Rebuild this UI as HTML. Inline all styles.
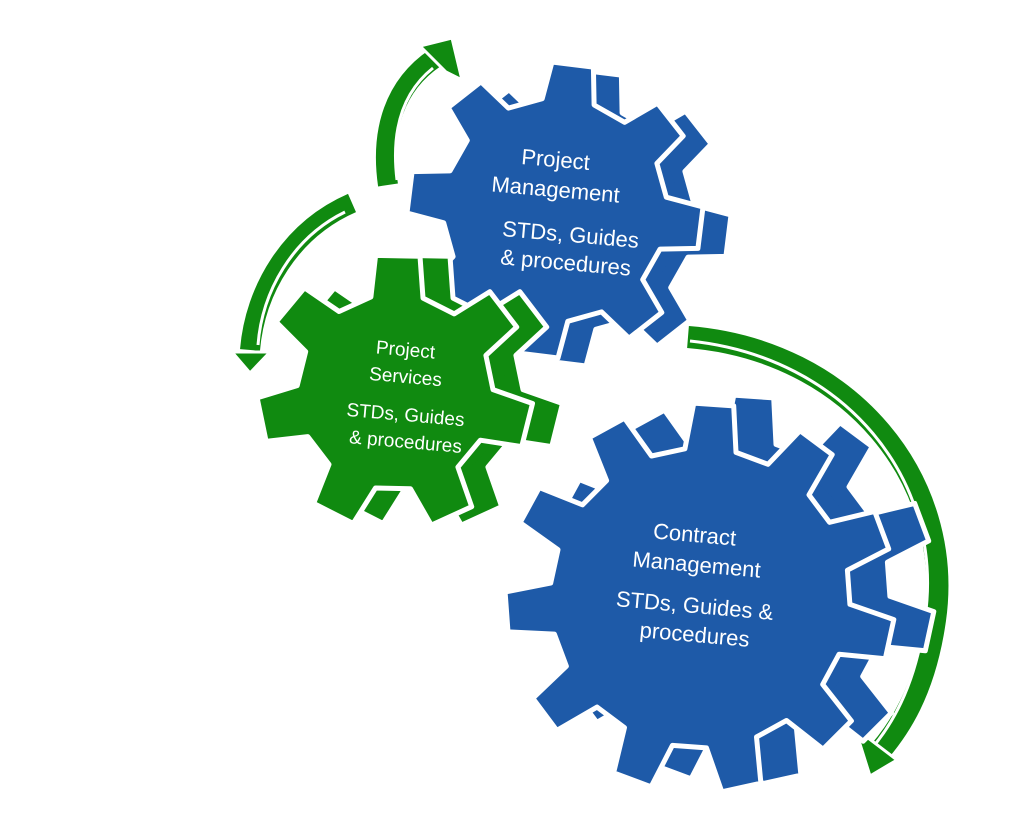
<!DOCTYPE html>
<html><head><meta charset="utf-8"><style>
html,body{margin:0;padding:0;background:#fff;}
svg{display:block}
text{font-family:"Liberation Sans",sans-serif;fill:#fff;}
</style></head><body>
<svg id="s" width="1024" height="814" viewBox="0 0 1024 814" xmlns="http://www.w3.org/2000/svg">
<g id="arrows">
 <path d="M388,185 C380,130 395,85 435,58" fill="none" stroke="#108A10" stroke-width="20"/>
 <path d="M397,180 C391,130 403,92 433,68" fill="none" stroke="#fff" stroke-width="3"/>
 <polygon points="420,46 452,38 462,80 446,72" fill="#108A10" stroke="#fff" stroke-width="3"/>
 <path d="M352,203 C290,230 255,290 250,350" fill="none" stroke="#108A10" stroke-width="20"/>
 <path d="M345,212 C292,238 262,292 258,345" fill="none" stroke="#fff" stroke-width="3"/>
 <polygon points="232,352 270,352 250,373" fill="#108A10" stroke="#fff" stroke-width="3"/>
 <path d="M688,337 C850,350 955,480 935,620 C925,690 900,730 872,760" fill="none" stroke="#108A10" stroke-width="22"/>
 <path d="M690,341 C845,357 945,480 925,618 C915,688 891,728 865,756" fill="none" stroke="#fff" stroke-width="3"/>
 <polygon points="855,728 897,760 870,776" fill="#108A10" stroke="#fff" stroke-width="3"/>
</g>
<g id="gears"></g>
<g>
 <text transform="translate(555,167) rotate(5)" font-size="22" text-anchor="middle">Project</text>
 <text transform="translate(555,197) rotate(5)" font-size="22" text-anchor="middle">Management</text>
 <text transform="translate(570,242) rotate(5)" font-size="22" text-anchor="middle">STDs, Guides</text>
 <text transform="translate(565,270) rotate(5)" font-size="22" text-anchor="middle">&amp; procedures</text>
 <text transform="translate(405,356) rotate(5)" font-size="19" text-anchor="middle">Project</text>
 <text transform="translate(405,383) rotate(5)" font-size="19" text-anchor="middle">Services</text>
 <text transform="translate(405,421) rotate(5)" font-size="19" text-anchor="middle">STDs, Guides</text>
 <text transform="translate(405,448) rotate(5)" font-size="19" text-anchor="middle">&amp; procedures</text>
 <text transform="translate(694,542) rotate(5)" font-size="22" text-anchor="middle">Contract</text>
 <text transform="translate(696,572) rotate(5)" font-size="22" text-anchor="middle">Management</text>
 <text transform="translate(694,613) rotate(5)" font-size="22" text-anchor="middle">STDs, Guides &amp;</text>
 <text transform="translate(694,642) rotate(5)" font-size="22" text-anchor="middle">procedures</text>
</g>
</svg>
<script>
function gear(cx,cy,r,R,n,rot){
 var p=[],i,a,st=2*Math.PI/n;
 for(i=0;i<n;i++){
  a=rot+i*st;
  var pts=[[r,a-st*0.30],[R,a-st*0.18],[R,a+st*0.18],[r,a+st*0.30]];
  pts.forEach(function(q){p.push((cx+q[0]*Math.cos(q[1])).toFixed(1)+","+(cy+q[0]*Math.sin(q[1])).toFixed(1));});
 }
 return p.join(" ");
}
var g=document.getElementById("gears"),h="";
function add(cx,cy,r,R,n,rot,col,dx,dy){
 h+='<polygon points="'+gear(cx+dx,cy+dy,r,R,n,rot)+'" fill="'+col+'" stroke="#fff" stroke-width="5" stroke-linejoin="round"/>';
 h+='<circle cx="'+(cx+dx*0.5)+'" cy="'+(cy+dy*0.5)+'" r="'+(r-2)+'" fill="'+col+'"/>';
 h+='<polygon points="'+gear(cx,cy,r,R,n,rot)+'" fill="'+col+'" stroke="#fff" stroke-width="5" stroke-linejoin="round"/>';
}
add(555,210,112,148,8,-1.45,"#1E5AA8",28,8);
add(700,598,150,195,11,-1.5,"#1E5AA8",40,-8);
add(395,392,98,138,7,-1.55,"#108A10",30,0);
g.innerHTML=h;
</script>
</body></html>
